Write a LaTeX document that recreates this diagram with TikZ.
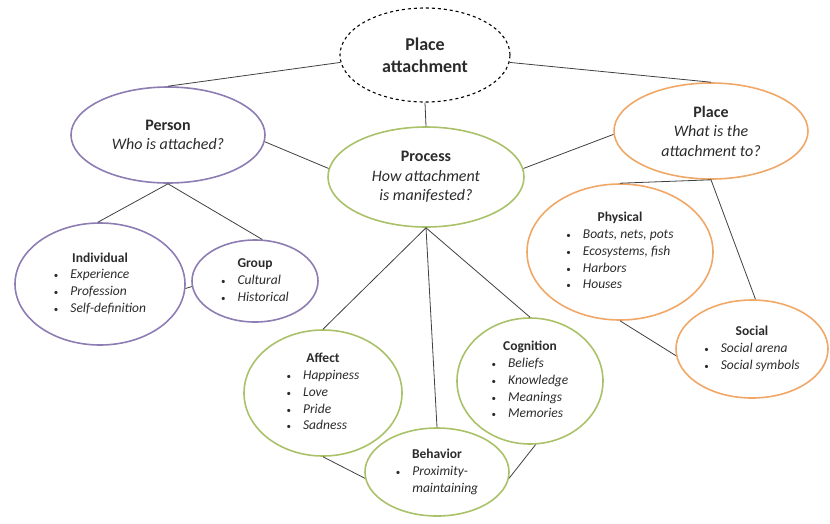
\documentclass[tikz,border=0pt]{standalone}
\usepackage{fontspec}
\setmainfont{Carlito}
\usetikzlibrary{shapes.geometric}
\definecolor{purp}{HTML}{8E7DB3}
\definecolor{grn}{HTML}{A9C26A}
\definecolor{orng}{HTML}{F0A868}
\definecolor{txt}{HTML}{2B2B2B}
\definecolor{lin}{HTML}{404040}
\newcommand{\blist}[2]{\begin{tabular}{@{}c@{\hspace{12pt}}l@{}}\multicolumn{2}{c}{\textbf{#1}}\\#2\end{tabular}}
\newcommand{\bi}[1]{{\small\textbullet} & \textit{#1}\\}
\begin{document}
\begin{tikzpicture}[x=1pt,y=-1pt,
  base/.style={ellipse, line width=1.6pt, inner sep=0pt, text=txt, align=center},
  top/.style={base, draw=black, line width=1.1pt, dashed, font=\fontsize{18}{22}\selectfont\bfseries},
  lvltwo/.style={base, font=\fontsize{16}{19.5}\selectfont},
  lvlthree/.style={base, font=\fontsize{13.5}{16.8}\selectfont},
  purpbox/.style={draw=purp},
  grnbox/.style={draw=grn},
  orngbox/.style={draw=orng},
  conn/.style={draw=lin, line width=0.8pt}
]
\useasboundingbox (0,0) rectangle (830,523);
\node[top, minimum width=170pt, minimum height=94pt] (pa) at (425,55) {Place\\attachment};
\node[lvltwo, purpbox, minimum width=194pt, minimum height=96pt] (person) at (168,135) {\textbf{Person}\\\textit{Who is attached?}};
\node[lvltwo, grnbox, minimum width=196pt, minimum height=100pt] (process) at (426,177) {\textbf{Process}\\\textit{How attachment}\\\textit{is manifested?}};
\node[lvltwo, orngbox, minimum width=194pt, minimum height=96pt] (place) at (711,131) {\textbf{Place}\\\textit{What is the}\\\textit{attachment to?}};
\node[lvlthree, purpbox, minimum width=170pt, minimum height=122pt] (indiv) at (100,284) {\blist{Individual}{\bi{Experience}\bi{Profession}\bi{Self-definition}}};
\node[lvlthree, purpbox, minimum width=126pt, minimum height=82pt] (group) at (255,281) {\blist{Group}{\bi{Cultural}\bi{Historical}}};
\node[lvlthree, orngbox, minimum width=186pt, minimum height=136pt] (phys) at (620,252) {\blist{Physical}{\bi{Boats, nets, pots}\bi{Ecosystems, fish}\bi{Harbors}\bi{Houses}}};
\node[lvlthree, orngbox, minimum width=152pt, minimum height=98pt] (social) at (752,349) {\blist{Social}{\bi{Social arena}\bi{Social symbols}}};
\node[lvlthree, grnbox, minimum width=158pt, minimum height=126pt] (affect) at (323,393) {\blist{Affect}{\bi{Happiness}\bi{Love}\bi{Pride}\bi{Sadness}}};
\node[lvlthree, grnbox, minimum width=146pt, minimum height=126pt] (cogn) at (530,381) {\blist{Cognition}{\bi{Beliefs}\bi{Knowledge}\bi{Meanings}\bi{Memories}}};
\node[lvlthree, grnbox, minimum width=144pt, minimum height=88pt] (behav) at (437,472) {\blist{Behavior}{\bi{Proximity-}& \textit{maintaining}\\}};
\path[conn] (pa.185) -- (person.north);
\path[conn] (pa.-5) -- (place.north);
\path[conn] (pa.south) -- (process.north);
\path[conn] (person.-4) -- (process.175);
\path[conn] (process.5) -- (place.182);
\path[conn] (phys.north) -- (place.south) -- (social.86);
\path[conn] (phys.south) -- (social.185);
\path[conn] (indiv.92) -- (person.south) -- (group.80);
\path[conn] (indiv.-3) -- (group.-175);
\path[conn] (affect.north) -- (process.south) -- (cogn.north);
\path[conn] (process.south) -- (behav.north);
\path[conn] (affect.south) -- (behav.185);
\path[conn] (cogn.-85) -- (behav.-5);
\end{tikzpicture}
\end{document}
